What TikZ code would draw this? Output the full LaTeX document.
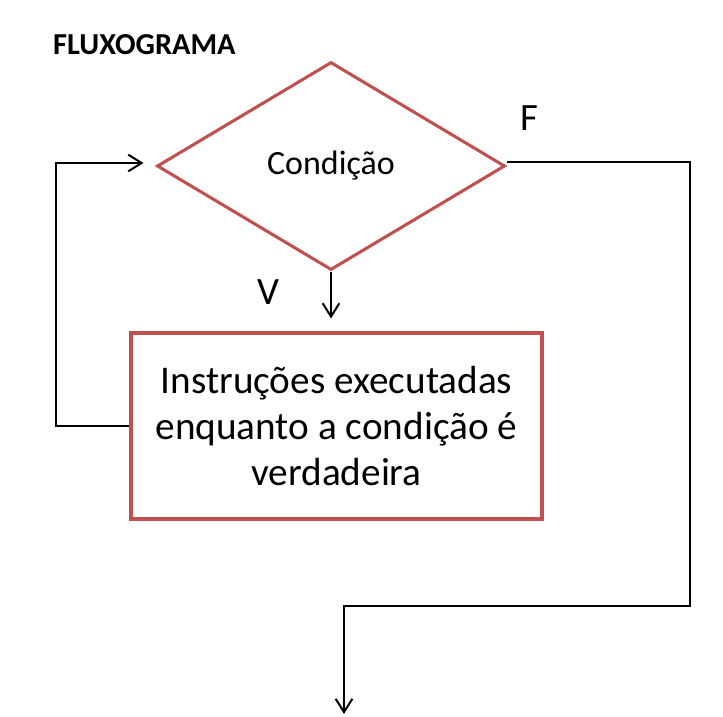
\documentclass[tikz,border=0pt]{standalone}
\usepackage{fontspec}
\usepackage{xcolor}
\setmainfont{Carlito}
\usetikzlibrary{shapes.geometric,arrows.meta}
\definecolor{vermelho}{RGB}{192,80,77}

\begin{document}
\begin{tikzpicture}[x=0.03cm,y=-0.03cm,
  seta/.style={draw=black,line width=1.7pt,-{Straight Barb[length=0.4cm,width=0.5cm,line width=1.7pt]}},
  caixa/.style={draw=vermelho,line width=2.6pt,inner sep=0pt}]
\useasboundingbox (0,0) rectangle (723,716);
\node[anchor=west,inner sep=0,font=\fontsize{26}{31}\selectfont\bfseries] (titulo) at (53,45) {FLUXOGRAMA};
\node[caixa,diamond,aspect=1.67,minimum width=10.44cm,minimum height=6.24cm,font=\fontsize{29}{35}\selectfont] (cond) at (331,166) {Condição};
\node[caixa,rectangle,minimum width=12.33cm,minimum height=5.58cm,align=center,font=\fontsize{33.5}{39.1}\selectfont] (instr) at (336.5,426) {Instruções executadas\\enquanto a condição é\\verdadeira};
\node[font=\fontsize{33}{38}\selectfont,inner sep=0] (falso) at (529,118) {F};
\node[font=\fontsize{33}{38}\selectfont,inner sep=0] (verd) at (268,292) {V};
\coordinate (fim) at (344,714);
% ligacoes
\draw[seta,shorten >=0.39cm] (cond.south) -- (cond.south |- instr.north);
\draw[seta,shorten >=0.36cm] (instr.west) -- ++(-73,0) |- ([yshift=0.09cm]cond.west);
\draw[seta] ([yshift=0.12cm]cond.east) -| (690,606) -| (fim);
\end{tikzpicture}
\end{document}
